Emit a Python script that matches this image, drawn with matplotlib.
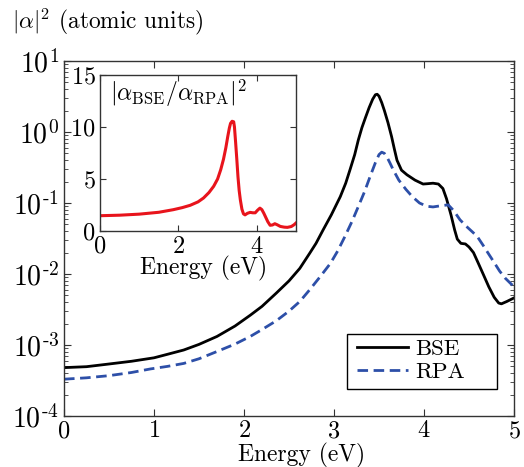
import numpy as np
import matplotlib
matplotlib.use("Agg")
import matplotlib.pyplot as plt
from matplotlib.ticker import FuncFormatter
from matplotlib.patches import Rectangle

plt.rcParams["font.family"] = "serif"
plt.rcParams["font.serif"] = ["cmr10"]
plt.rcParams["mathtext.fontset"] = "cm"
plt.rcParams["axes.formatter.use_mathtext"] = True

# Polarizability spectra |alpha|^2 (atomic units) vs photon energy (eV)
energy_bse = [0.0, 0.25, 0.5, 0.75, 1.0, 1.15, 1.33, 1.5, 1.7, 1.9, 2.07, 2.2,
              2.36, 2.5, 2.62, 2.73, 2.8, 2.88, 2.97, 3.07, 3.13, 3.18, 3.23,
              3.27, 3.31, 3.35, 3.39, 3.43, 3.46, 3.48, 3.5, 3.53, 3.56, 3.6,
              3.64, 3.67, 3.7, 3.75, 3.81, 3.9, 3.99, 4.04, 4.1, 4.16, 4.21,
              4.25, 4.3, 4.34, 4.37, 4.41, 4.46, 4.5, 4.55, 4.6, 4.66, 4.72,
              4.78, 4.83, 4.86, 4.92, 5.0]
alpha_bse = [4.8e-4, 4.95e-4, 5.4e-4, 5.9e-4, 6.6e-4, 7.4e-4, 8.5e-4, 1.02e-3,
             1.32e-3, 1.85e-3, 2.63e-3, 3.5e-3, 5.4e-3, 8.0e-3, 0.012, 0.0196,
             0.027, 0.042, 0.068, 0.123, 0.19, 0.30, 0.48, 0.77, 1.15, 1.6, 2.2,
             2.9, 3.35, 3.4, 3.2, 2.6, 2.0, 1.35, 0.86, 0.58, 0.40, 0.29, 0.25,
             0.21, 0.185, 0.187, 0.19, 0.185, 0.16, 0.115, 0.068, 0.042, 0.031,
             0.027, 0.0265, 0.024, 0.02, 0.0145, 0.0098, 0.0066, 0.0047,
             0.0039, 0.0038, 0.0041, 0.0046]

energy_rpa = [0.0, 0.25, 0.5, 0.75, 0.96, 1.15, 1.33, 1.5, 1.7, 1.9, 2.07, 2.2,
              2.36, 2.5, 2.62, 2.73, 2.85, 2.96, 3.04, 3.12, 3.2, 3.27, 3.34,
              3.4, 3.46, 3.5, 3.53, 3.56, 3.59, 3.62, 3.66, 3.72, 3.8, 3.87,
              3.95, 4.03, 4.1, 4.2, 4.27, 4.33, 4.4, 4.47, 4.53, 4.59, 4.66,
              4.72, 4.78, 4.84, 4.9, 5.0]
alpha_rpa = [3.3e-4, 3.45e-4, 3.7e-4, 4.1e-4, 4.6e-4, 5.0e-4, 5.5e-4, 6.4e-4,
             8.1e-4, 1.03e-3, 1.32e-3, 1.65e-3, 2.2e-3, 3.0e-3, 4.1e-3, 6.0e-3,
             9.3e-3, 0.0141, 0.021, 0.0335, 0.055, 0.089, 0.145, 0.234, 0.37,
             0.48, 0.52, 0.50, 0.44, 0.37, 0.29, 0.21, 0.155, 0.123, 0.10,
             0.09, 0.088, 0.092, 0.094, 0.078, 0.058, 0.047, 0.040, 0.034,
             0.025, 0.019, 0.0145, 0.011, 0.0088, 0.0066]

# Enhancement ratio |alpha_BSE / alpha_RPA|^2
energy_ratio = [0.0, 0.5, 1.0, 1.5, 1.87, 2.1, 2.3, 2.5, 2.64, 2.78, 2.9, 3.0,
                3.08, 3.15, 3.21, 3.26, 3.3, 3.33, 3.37, 3.41, 3.43, 3.46,
                3.49, 3.52, 3.55, 3.58, 3.62, 3.66, 3.7, 3.76, 3.83, 3.9,
                3.96, 4.02, 4.08, 4.13, 4.18, 4.23, 4.28, 4.34, 4.4, 4.46,
                4.52, 4.6, 4.7, 4.78, 4.88, 4.95, 5.0]
ratio = [1.47, 1.52, 1.62, 1.8, 2.05, 2.25, 2.47, 2.8, 3.17, 3.7, 4.3, 5.0,
         5.9, 6.9, 8.0, 9.1, 9.9, 10.35, 10.55, 10.5, 10.0, 8.5, 6.9, 5.2, 3.9,
         3.0, 2.1, 1.65, 1.55, 1.7, 1.79, 1.75, 1.75, 2.0, 2.2, 2.05, 1.7,
         1.3, 0.9, 0.55, 0.58, 0.7, 0.6, 0.44, 0.37, 0.35, 0.43, 0.6, 0.77]

main_xticks = [0, 1, 2, 3, 4, 5]
main_yticks = [1e-4, 1e-3, 1e-2, 1e-1, 1e0, 1e1]
inset_xticks = [0, 2, 4]
inset_yticks = [0, 5, 10, 15]

fig = plt.figure(figsize=(5.24, 4.67), dpi=100)
W, H = 524, 467

def rect(l, r, t, b):
    return [l / W, 1 - b / H, (r - l) / W, (b - t) / H]

def decade_label(v, _pos):
    e = int(round(np.log10(v)))
    if e < 0:
        return r"$10^{\text{-}%d}$" % (-e)
    return r"$10^{%d}$" % e

ax = fig.add_axes(rect(64, 514, 61, 416))
ax.plot(energy_bse, alpha_bse, color="black", lw=2.0, label="BSE")
ax.plot(energy_rpa, alpha_rpa, color="#2d4fa8", lw=2.0, ls=(0, (3.8, 2.0)),
        label="RPA")
ax.set_yscale("log")
ax.set_xlim(0, 5)
ax.set_ylim(1e-4, 1e1)
ax.set_xticks(main_xticks)
ax.set_yticks(main_yticks)
ax.yaxis.set_major_formatter(FuncFormatter(decade_label))
ax.tick_params(which="both", direction="in", top=True, right=True,
               color="#333333")
ax.tick_params(axis="x", labelsize=17.5, pad=3.0)
ax.tick_params(axis="y", labelsize=20, pad=3.5)
ax.tick_params(which="major", length=5, width=0.8)
ax.tick_params(which="minor", length=3, width=0.6)
for s in ax.spines.values():
    s.set_linewidth(1.0)
    s.set_color("#333333")
ax.set_xlabel("Energy (eV)", fontsize=17)
ax.xaxis.label.set_va("center")
ax.xaxis.set_label_coords(0.527, -0.111)

# legend: framed box drawn as a patch, entries placed inside it
ax.add_patch(Rectangle((0.629, 0.076), 0.333, 0.155, transform=ax.transAxes,
                       facecolor="white", edgecolor="black", lw=1.0,
                       zorder=4))
leg = ax.legend(loc="upper left", bbox_to_anchor=(0.650, 0.217),
                fontsize=16.5, frameon=False, handlelength=2.25,
                borderpad=0, labelspacing=0.12, handletextpad=0.3,
                borderaxespad=0)
leg.set_zorder(5)

fig.text(12 / W, 1 - 22 / H, r"$|\alpha|^2$ (atomic units)", fontsize=16.8,
         va="center", ha="left")

ins = fig.add_axes(rect(100, 296, 75, 231))
ins.set_facecolor("white")
ins.plot(energy_ratio, ratio, color="#e8141c", lw=2.2)
ins.set_xlim(0, 5)
ins.set_ylim(0, 15)
ins.set_xticks(inset_xticks)
ins.set_yticks(inset_yticks)
ins.tick_params(which="both", direction="in", top=True, right=True,
                labelsize=17.5, length=4, width=0.8, pad=3.2, color="#333333")
for s in ins.spines.values():
    s.set_linewidth(1.0)
    s.set_color("#333333")
ins.set_xlabel("Energy (eV)", fontsize=17)
ins.xaxis.label.set_va("center")
ins.xaxis.set_label_coords(0.53, -0.24)
ins.text(0.05, 0.88, r"$\left|\alpha_{\rm BSE}/\alpha_{\rm RPA}\right|^2$",
         transform=ins.transAxes, fontsize=17, ha="left", va="center")

fig.savefig("out.png", dpi=100)
